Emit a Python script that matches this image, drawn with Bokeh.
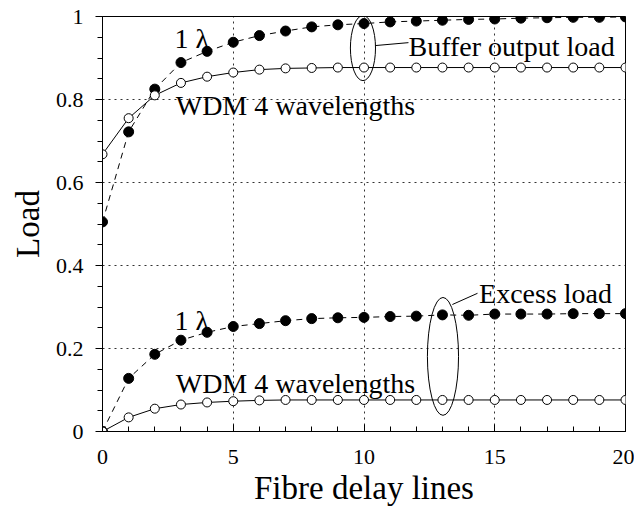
from bokeh.plotting import figure
from bokeh.models import FixedTicker, Range1d
from bokeh.core.properties import value
from bokeh.embed import file_html
from bokeh.resources import INLINE

delay_lines = list(range(0, 21))
buffer_1l = [0.505, 0.722, 0.825, 0.889, 0.916, 0.938, 0.954, 0.965, 0.975, 0.980, 0.983,
             0.987, 0.989, 0.991, 0.993, 0.994, 0.996, 0.997, 0.998, 0.998, 0.999]
buffer_wdm = [0.668, 0.755, 0.810, 0.840, 0.855, 0.865, 0.872, 0.875, 0.876, 0.877, 0.877,
              0.877, 0.877, 0.877, 0.877, 0.877, 0.877, 0.877, 0.877, 0.877, 0.877]
excess_1l = [0.0, 0.128, 0.186, 0.220, 0.239, 0.253, 0.260, 0.267, 0.272, 0.274, 0.275,
             0.277, 0.278, 0.281, 0.280, 0.283, 0.283, 0.283, 0.284, 0.284, 0.284]
excess_wdm = [0.0, 0.034, 0.055, 0.065, 0.070, 0.073, 0.075, 0.076, 0.076, 0.076, 0.076,
              0.076, 0.076, 0.076, 0.076, 0.076, 0.076, 0.076, 0.076, 0.076, 0.076]

x_ticks = [0, 5, 10, 15, 20]
y_ticks = [0, 0.2, 0.4, 0.6, 0.8, 1.0]
y_tick_labels = ["0", "0.2", "0.4", "0.6", "0.8", "1"]

# annotations: (text, x, y)
labels = [("1 \u03bb", 2.75, 0.947), ("WDM 4 wavelengths", 2.8, 0.786),
          ("1 \u03bb", 2.75, 0.267), ("WDM 4 wavelengths", 2.8, 0.116),
          ("Buffer output load", 11.7, 0.928), ("Excess load", 14.4, 0.333)]
ellipses_x = [9.96, 13.02]
ellipses_y = [0.924, 0.181]
ellipses_w = [0.96, 1.19]
ellipses_h = [0.157, 0.284]
leader_x0 = [10.44, 13.38]
leader_y0 = [0.930, 0.306]
leader_x1 = [11.7, 14.34]
leader_y1 = [0.937, 0.333]

FONT = "Liberation Serif"

p = figure(width=634, height=498, output_backend="svg", toolbar_location=None,
           x_range=Range1d(0, 20), y_range=Range1d(0, 1),
           min_border_left=102, min_border_right=9, min_border_top=16, min_border_bottom=67)
p.frame_width = 523
p.frame_height = 415
p.background_fill_color = "white"
p.border_fill_color = "white"
p.outline_line_color = "black"
p.outline_line_width = 1

p.xaxis.ticker = FixedTicker(ticks=x_ticks, minor_ticks=delay_lines)
p.yaxis.ticker = FixedTicker(ticks=y_ticks, minor_ticks=[i * 0.05 for i in range(21)])
p.yaxis.major_label_overrides = {t: l for t, l in zip(y_ticks, y_tick_labels)}
p.xaxis.major_label_overrides = {t: str(t) for t in x_ticks}

for ax in (p.xaxis, p.yaxis):
    ax.axis_line_color = "black"
    ax.major_tick_line_color = "black"
    ax.minor_tick_line_color = "black"
    ax.major_label_text_font = FONT
    ax.major_label_text_font_size = "22px"
    ax.major_label_text_color = "black"
    ax.axis_label_text_font = FONT
    ax.axis_label_text_font_size = "33px"
    ax.axis_label_text_font_style = "normal"
    ax.axis_label_text_color = "black"

p.xaxis.major_tick_in = 7
p.xaxis.major_tick_out = 0
p.xaxis.minor_tick_in = 5
p.xaxis.minor_tick_out = 0
p.yaxis.major_tick_in = 0
p.yaxis.major_tick_out = 7
p.yaxis.minor_tick_in = 0
p.yaxis.minor_tick_out = 5

p.xaxis.axis_label = "Fibre delay lines"
p.yaxis.axis_label = "Load"
p.xaxis.major_label_standoff = 18
p.yaxis.major_label_standoff = 12
p.xaxis.axis_label_standoff = 3
p.yaxis.axis_label_standoff = 7

p.grid.grid_line_color = "black"
p.grid.grid_line_dash = "2 4"
p.grid.grid_line_width = 1
p.grid.grid_line_alpha = 0.8

# series
p.line(delay_lines, buffer_1l, line_color="black", line_width=1, line_dash="6 5")
p.line(delay_lines, excess_1l, line_color="black", line_width=1, line_dash="6 5")
p.line(delay_lines, buffer_wdm, line_color="black", line_width=1)
p.line(delay_lines, excess_wdm, line_color="black", line_width=1)
p.scatter(delay_lines, buffer_1l, size=10, marker="circle", fill_color="black", line_color="black")
p.scatter(delay_lines, excess_1l, size=10, marker="circle", fill_color="black", line_color="black")
p.scatter(delay_lines, buffer_wdm, size=9, marker="circle", fill_color="white", line_color="black", line_width=1)
p.scatter(delay_lines, excess_wdm, size=9, marker="circle", fill_color="white", line_color="black", line_width=1)

p.ellipse(x=ellipses_x, y=ellipses_y, width=ellipses_w, height=ellipses_h,
          fill_color=None, line_color="black", line_width=1)
p.segment(x0=leader_x0, y0=leader_y0, x1=leader_x1, y1=leader_y1, line_color="black", line_width=1)

p.text(x=[l[1] for l in labels], y=[l[2] for l in labels], text=[l[0] for l in labels],
       text_font=value(FONT), text_font_size="28px", text_align="left",
       text_baseline="middle", text_color="black")

open("out.html", "w").write(file_html(p, INLINE))
